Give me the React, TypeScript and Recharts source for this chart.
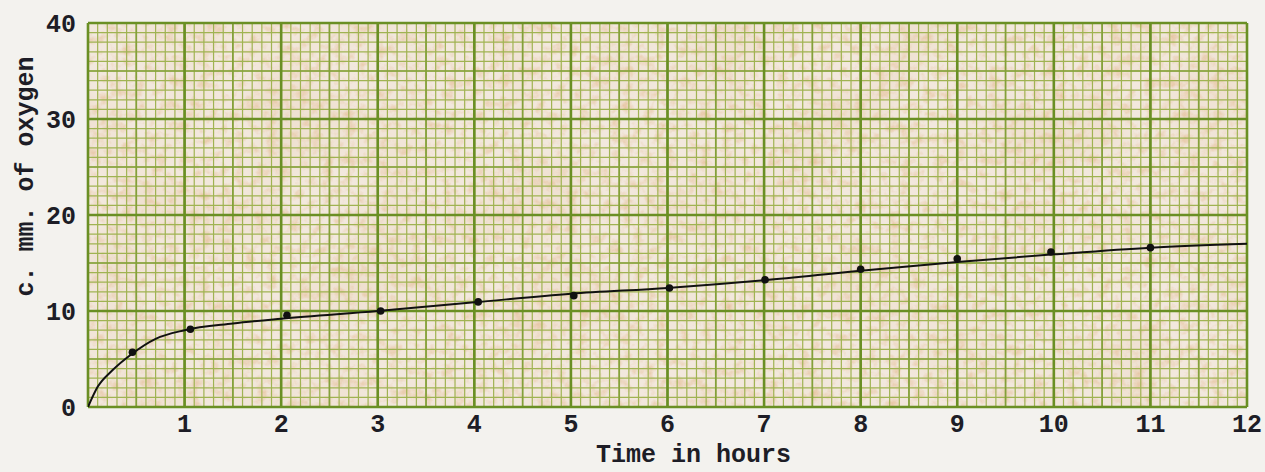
import {
  ComposedChart,
  Line,
  Scatter,
  XAxis,
  YAxis,
  CartesianGrid,
} from "recharts";

// measured points (hours, c. mm. of oxygen)
const pointHours = [0.46, 1.06, 2.06, 3.03, 4.04, 5.03, 6.02, 7.01, 8.0, 9.0, 9.97, 11.0];
const pointOxygen = [5.7, 8.1, 9.55, 10.0, 10.95, 11.6, 12.4, 13.25, 14.35, 15.45, 16.15, 16.6];

// hand-drawn smoothed curve
const curveHours = [0, 0.1, 0.25, 0.45, 0.7, 1, 1.5, 2, 3, 4, 5, 6, 7, 8, 9, 10, 11, 12];
const curveOxygen = [0, 2.1, 3.8, 5.5, 7.1, 8.0, 8.7, 9.2, 10.0, 10.9, 11.8, 12.4, 13.2, 14.2, 15.1, 15.9, 16.6, 17.0];

const xTicks = [1, 2, 3, 4, 5, 6, 7, 8, 9, 10, 11, 12];
const yTicks = [0, 10, 20, 30, 40];

const points = pointHours.map((t, i) => ({ t, v: pointOxygen[i] }));
const curve = curveHours.map((t, i) => ({ t, v: curveOxygen[i] }));

// graph paper rulings
const steps = (max: number, step: number) => {
  const out: number[] = [];
  for (let i = 0; i <= Math.round(max / step); i++) out.push(+(i * step).toFixed(2));
  return out;
};
const minorX = steps(12, 0.1);
const halfX = steps(12, 0.5);
const majorX = steps(12, 1);
const minorY = steps(40, 1);
const halfY = steps(40, 5);
const majorY = steps(40, 10);

const FONT = "'Liberation Mono', 'DejaVu Sans Mono', monospace";
const INK = "#1d1d26";

export default function App() {
  return (
    <div
      style={{
        position: "fixed",
        left: 0,
        top: 0,
        width: 1265,
        height: 472,
        background: "#f3f2ee",
      }}
    >
      <ComposedChart
        width={1265}
        height={472}
        margin={{ top: 23, right: 18, bottom: 0, left: 0 }}
      >
        <defs>
          <filter id="mottle" x="0" y="0" width="100%" height="100%">
            <feTurbulence type="fractalNoise" baseFrequency="0.09" numOctaves={4} seed={11} />
            <feColorMatrix
              type="matrix"
              values="0 0 0 0 0.76  0 0 0 0 0.48  0 0 0 0 0.26  1.4 0 0 0 -0.66"
            />
          </filter>
          <filter id="blotch" x="0" y="0" width="100%" height="100%">
            <feTurbulence type="fractalNoise" baseFrequency="0.012" numOctaves={2} seed={3} />
            <feColorMatrix
              type="matrix"
              values="0 0 0 0 0.8  0 0 0 0 0.62  0 0 0 0 0.45  0.9 0 0 0 -0.4"
            />
          </filter>
          <pattern id="paper" patternUnits="userSpaceOnUse" width={1265} height={472}>
            <rect width={1265} height={472} fill="#f2e8dd" />
            <rect width={1265} height={472} filter="url(#blotch)" />
            <rect width={1265} height={472} filter="url(#mottle)" />
          </pattern>
        </defs>
        <CartesianGrid
          fill="url(#paper)"
          fillOpacity={1}
          stroke="#a0b352"
          strokeWidth={1.2}
          verticalValues={minorX}
          horizontalValues={minorY}
        />
        <CartesianGrid
          stroke="#84a03a"
          strokeWidth={1.7}
          verticalValues={halfX}
          horizontalValues={halfY}
        />
        <CartesianGrid
          stroke="#6a8f24"
          strokeWidth={2.6}
          verticalValues={majorX}
          horizontalValues={majorY}
        />
        <XAxis
          type="number"
          dataKey="t"
          domain={[0, 12]}
          ticks={xTicks}
          interval={0}
          allowDataOverflow
          height={65}
          tickLine={false}
          axisLine={false}
          tickSize={0}
          tickMargin={7}
          tick={{ fontFamily: FONT, fontSize: 25, fill: INK, fontWeight: 700 }}
          label={{
            content: (props: any) => {
              const vb = props.viewBox || {};
              const cx = vb.x + vb.width / 2 + 26;
              return (
                <text
                  x={cx}
                  y={462}
                  textAnchor="middle"
                  fontFamily={FONT}
                  fontSize={25}
                  fontWeight={700}
                  fill={INK}
                >
                  Time in hours
                </text>
              );
            },
          }}
        />
        <YAxis
          type="number"
          dataKey="v"
          domain={[0, 40]}
          ticks={yTicks}
          interval={0}
          allowDataOverflow
          width={88}
          tickLine={false}
          axisLine={false}
          tickSize={0}
          tickMargin={12}
          tick={{ fontFamily: FONT, fontSize: 25, fill: INK, fontWeight: 700 }}
          label={{
            content: (props: any) => {
              const vb = props.viewBox || {};
              const cx = vb.x + 27;
              const cy = vb.y + vb.height * 0.4;
              return (
                <text
                  x={cx}
                  y={cy}
                  transform={`rotate(-90 ${cx} ${cy})`}
                  textAnchor="middle"
                  dominantBaseline="central"
                  fontFamily={FONT}
                  fontSize={25}
                  fontWeight={700}
                  fill={INK}
                >
                  c. mm. of oxygen
                </text>
              );
            },
          }}
        />
        <Line
          data={curve}
          dataKey="v"
          type="monotone"
          stroke="#111"
          strokeWidth={2}
          dot={false}
          activeDot={false}
          isAnimationActive={false}
        />
        <Scatter
          data={points}
          dataKey="v"
          fill="#111"
          shape={(p: any) => <circle cx={p.cx} cy={p.cy} r={3.8} fill="#111" />}
          isAnimationActive={false}
        />
      </ComposedChart>
    </div>
  );
}
